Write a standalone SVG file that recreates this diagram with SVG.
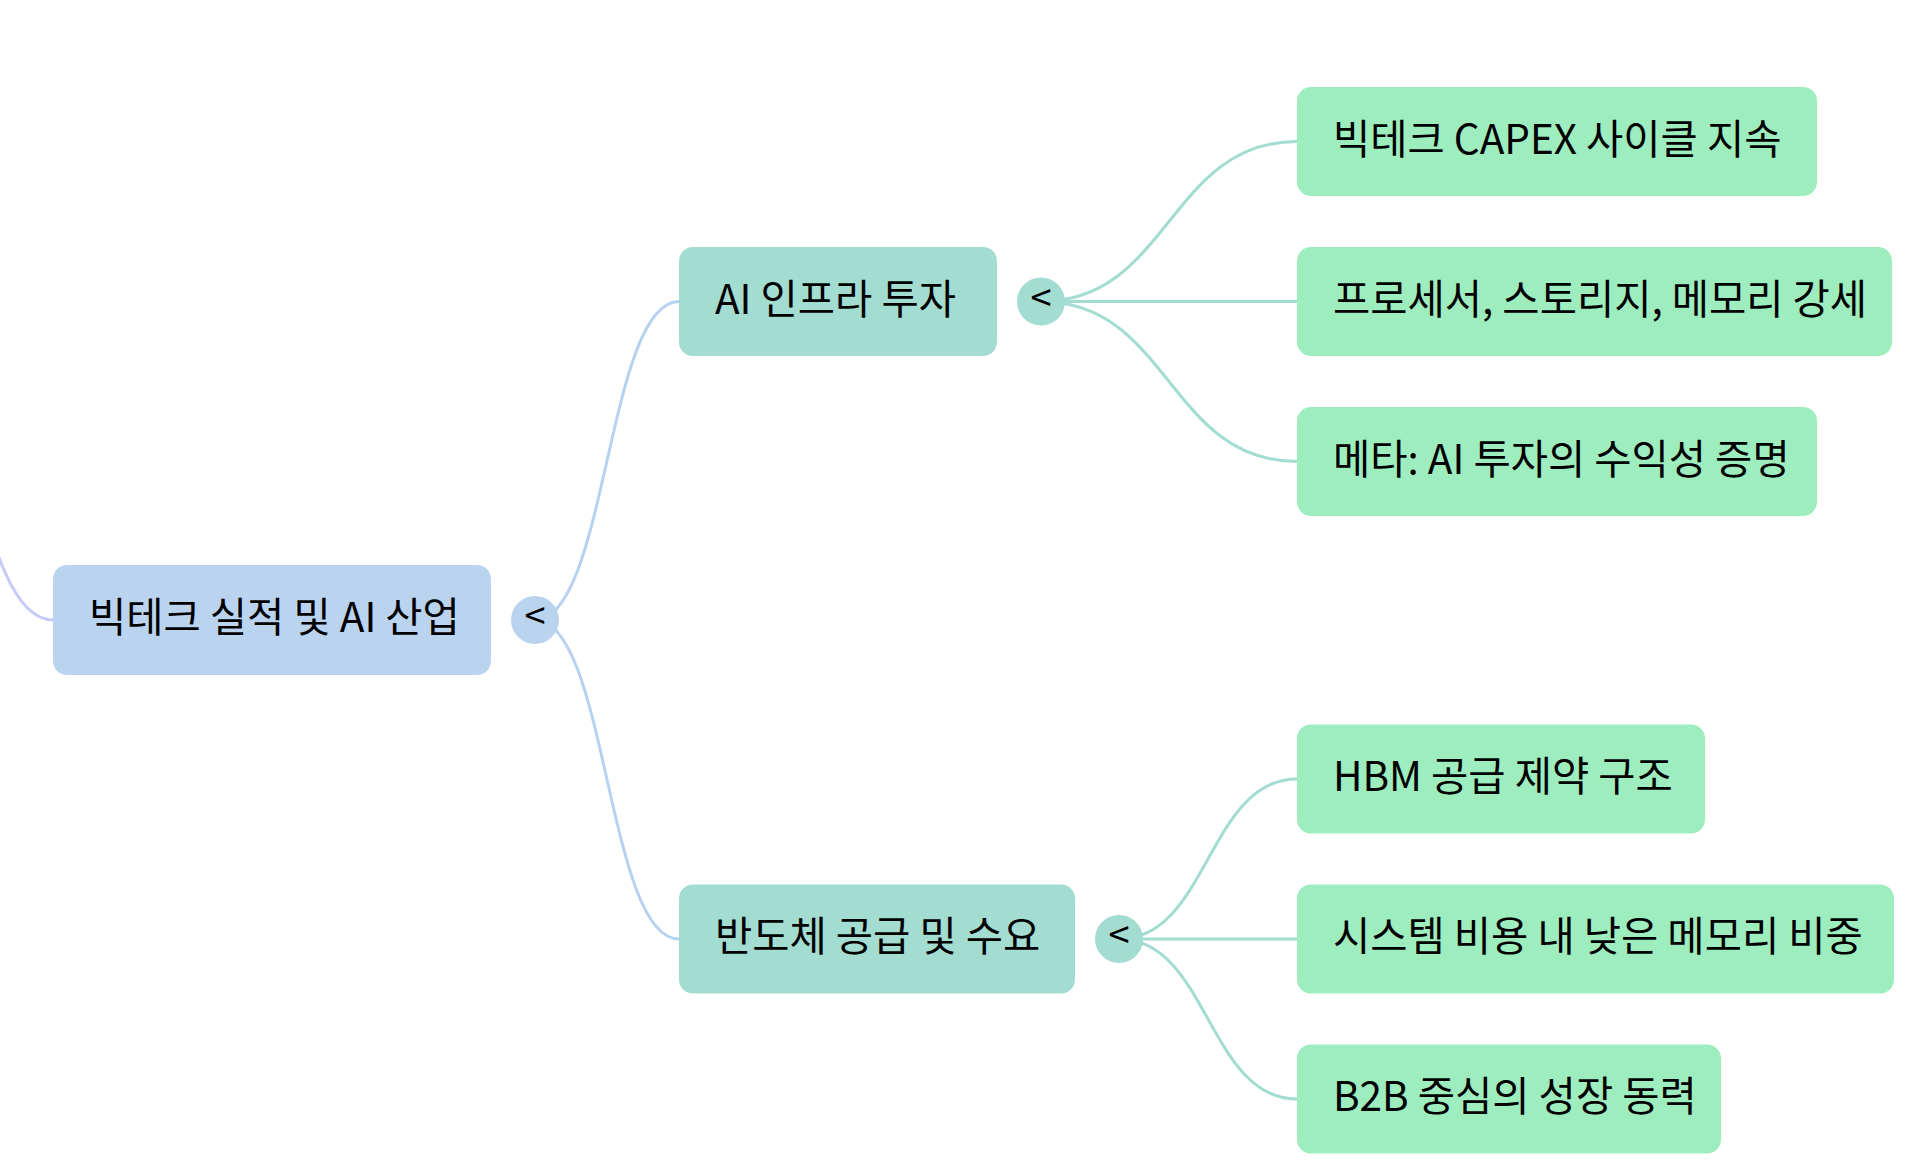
<svg xmlns="http://www.w3.org/2000/svg" width="1920" height="1168" viewBox="0 0 1920 1168">
<style>
text{font-family:"Noto Sans CJK KR","Noto Sans",sans-serif;fill:#000;}
.lbl{font-size:40.5px;text-anchor:start;}
.tog{font-size:38px;text-anchor:middle;}
.root{fill:#bad4f0;}
.l1{fill:#a3dcd0;}
.l2{fill:#9eedbf;}
.c-root{fill:none;stroke:#b7d1f0;stroke-width:3;}
.c-l1{fill:none;stroke:#a3dcd0;stroke-width:3;}
.c-in{fill:none;stroke:#c8cbfa;stroke-width:3;}
</style>
<rect width="1920" height="1168" fill="#fff"/>
<g id="connectors">
<path class="c-in" d="M-107,322 C-27,322 -27,620 53,620"/>
<path class="c-root" d="M535,620 C607,620 607,301.5 679,301.5"/>
<path class="c-root" d="M535,620 C607,620 607,939 679,939"/>
<path class="c-l1" d="M1041,301.5 C1169,301.5 1169,141.5 1297,141.5"/>
<path class="c-l1" d="M1041,301.5 L1297,301.5"/>
<path class="c-l1" d="M1041,301.5 C1169,301.5 1169,461.5 1297,461.5"/>
<path class="c-l1" d="M1119,939 C1208,939 1208,779 1297,779"/>
<path class="c-l1" d="M1119,939 L1297,939"/>
<path class="c-l1" d="M1119,939 C1208,939 1208,1099 1297,1099"/>
</g>
<g id="root">
<rect class="root" x="53" y="565" width="438" height="110" rx="14"/>
<text class="lbl" x="89" y="632">빅테크 실적 및 AI 산업</text>
<circle class="root" cx="535" cy="620" r="24"/>
<text class="tog" x="535" y="630">&lt;</text>
</g>
<g id="n-ai-infra">
<rect class="l1" x="679" y="247" width="318" height="109" rx="14"/>
<text class="lbl" x="715" y="313.5">AI 인프라 투자</text>
<circle class="l1" cx="1041" cy="301.5" r="24"/>
<text class="tog" x="1041" y="311.5">&lt;</text>
</g>
<g id="n-semi">
<rect class="l1" x="679" y="884.5" width="396" height="109" rx="14"/>
<text class="lbl" x="715" y="951">반도체 공급 및 수요</text>
<circle class="l1" cx="1119" cy="939" r="24"/>
<text class="tog" x="1119" y="949">&lt;</text>
</g>
<g id="n-capex">
<rect class="l2" x="1297" y="87" width="520" height="109" rx="14"/>
<text class="lbl" x="1333" y="153.5">빅테크 CAPEX 사이클 지속</text>
</g>
<g id="n-processor">
<rect class="l2" x="1297" y="247" width="595" height="109" rx="14"/>
<text class="lbl" x="1333" y="313.5">프로세서, 스토리지, 메모리 강세</text>
</g>
<g id="n-meta">
<rect class="l2" x="1297" y="407" width="520" height="109" rx="14"/>
<text class="lbl" x="1333" y="473.5">메타: AI 투자의 수익성 증명</text>
</g>
<g id="n-hbm">
<rect class="l2" x="1297" y="724.5" width="408" height="109" rx="14"/>
<text class="lbl" x="1333" y="791">HBM 공급 제약 구조</text>
</g>
<g id="n-memory">
<rect class="l2" x="1297" y="884.5" width="597" height="109" rx="14"/>
<text class="lbl" x="1333" y="951">시스템 비용 내 낮은 메모리 비중</text>
</g>
<g id="n-b2b">
<rect class="l2" x="1297" y="1044.5" width="424" height="109" rx="14"/>
<text class="lbl" x="1333" y="1111">B2B 중심의 성장 동력</text>
</g>
</svg>
